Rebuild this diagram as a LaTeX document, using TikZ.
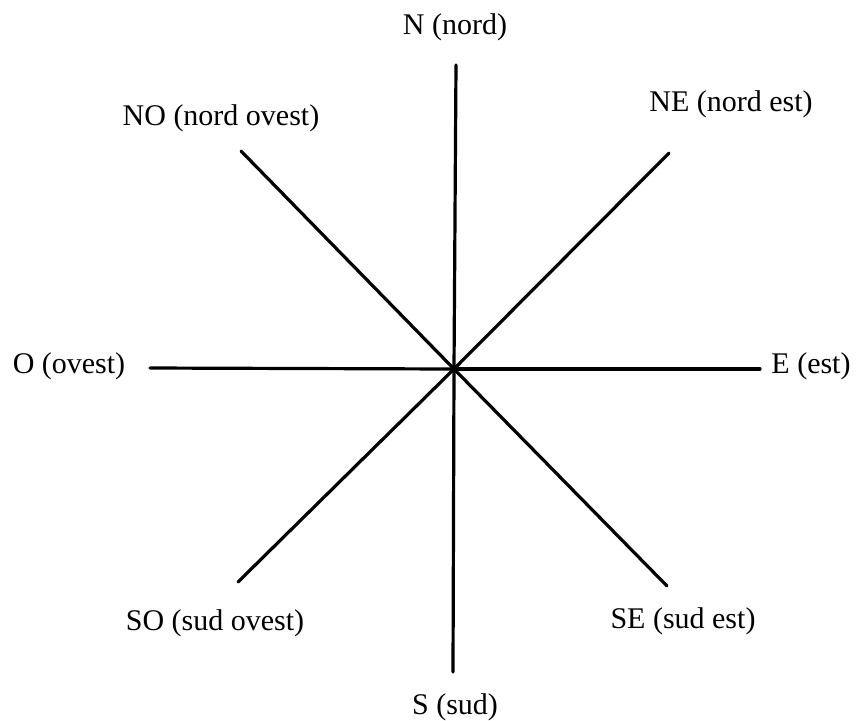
\documentclass[tikz,border=0pt]{standalone}
\usepackage{fontspec}
\setmainfont{Liberation Serif}
\usepackage{tikz}

\begin{document}
\begin{tikzpicture}[x=0.5pt,y=-0.5pt,
		ray/.style={line width=1.6pt,line cap=round},
		dirlabel/.style={font=\fontsize{15}{18}\selectfont,inner sep=0pt}]
	% 画布范围
	\useasboundingbox (0,0) rectangle (858,720);
	% 中心与各方向端点
	\coordinate (O) at (454,369);
	\coordinate (n) at (456,65);
	\coordinate (s) at (453,672);
	\coordinate (e) at (760,369);
	\coordinate (w) at (150,368);
	\coordinate (ne) at (669,153);
	\coordinate (nw) at (241,151);
	\coordinate (sw) at (238,582);
	\coordinate (se) at (667,586);
	% 八条方向线
	\foreach \d in {n,s,e,w,ne,nw,sw,se}
		\draw[ray] (O) -- (\d);
	\fill (O) circle (3);
	% 方向标注
	\node[dirlabel] (lN) at (455,27) {N (nord)};
	\node[dirlabel] (lNO) at (221,118) {NO (nord ovest)};
	\node[dirlabel] (lNE) at (731,104) {NE (nord est)};
	\node[dirlabel] (lO) at (69,366) {O (ovest)};
	\node[dirlabel] (lE) at (811,366) {E (est)};
	\node[dirlabel] (lSO) at (215,623) {SO (sud ovest)};
	\node[dirlabel] (lSE) at (683,621) {SE (sud est)};
	\node[dirlabel] (lS) at (455,707) {S (sud)};
\end{tikzpicture}
\end{document}
